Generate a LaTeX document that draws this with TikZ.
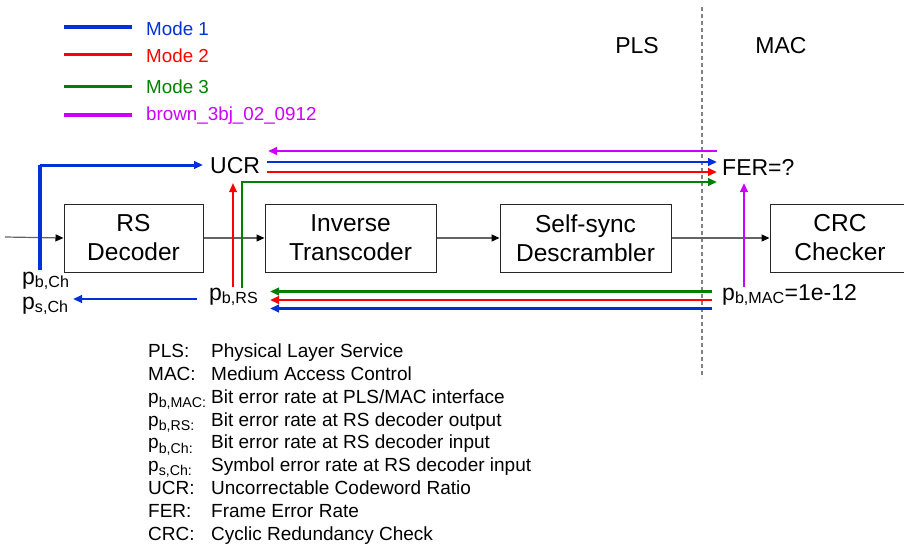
\documentclass[tikz,border=0pt]{standalone}
\usepackage{fontspec}
\setmainfont{Liberation Sans}
\usetikzlibrary{arrows.meta}
\definecolor{mblue}{RGB}{0,48,216}
\definecolor{mred}{RGB}{255,0,0}
\definecolor{mgreen}{RGB}{0,128,0}
\definecolor{mmag}{RGB}{204,0,255}
\definecolor{flowgray}{RGB}{100,100,100}
\definecolor{divgray}{RGB}{130,130,130}
% lowered index for the abbreviation list
\newcommand\keyidx[1]{\raisebox{-0.22em}{\fontsize{14.2}{14.2}\selectfont #1}}
\tikzset{
  blockbox/.style={draw=black!85, line width=1pt, fill=white, inner sep=0pt,
    minimum height=68pt, align=center, font=\fontsize{24.5}{29}\selectfont},
  flow/.style={draw=flowgray, line width=1.2pt, -{Triangle[length=8pt,width=7pt,color=black]}},
  sig/.style={line width=2.4pt, -{Triangle[length=9pt,width=7.5pt]}},
  lbl/.style={anchor=base west, inner sep=0pt, font=\fontsize{23}{27}\selectfont},
  layer/.style={anchor=base, inner sep=0pt, font=\fontsize{23}{27}\selectfont},
  keyline/.style={line width=3.2pt},
  keytxt/.style={anchor=base west, inner sep=0pt, font=\fontsize{18.8}{22}\selectfont},
  deftxt/.style={anchor=base west, inner sep=0pt, font=\fontsize{19}{22}\selectfont},
}
\begin{document}
\begin{tikzpicture}[x=1pt,y=-1pt]
\useasboundingbox (0,0) rectangle (904,546);

% colour key
\coordinate (k1a) at (64,27);   \coordinate (k1b) at (132,27);
\coordinate (k2a) at (64,54.5); \coordinate (k2b) at (132,54.5);
\coordinate (k3a) at (64,86.5); \coordinate (k3b) at (132,86.5);
\coordinate (k4a) at (64,115);  \coordinate (k4b) at (132,115);
\draw[keyline, mblue]  (k1a) -- (k1b);
\draw[keyline, mred]   (k2a) -- (k2b);
\draw[keyline, mgreen] (k3a) -- (k3b);
\draw[keyline, mmag]   (k4a) -- (k4b);
\node[keytxt, text=mblue]  (key1) at (146,35)  {Mode 1};
\node[keytxt, text=mred]   (key2) at (146,62)  {Mode 2};
\node[keytxt, text=mgreen] (key3) at (146,93)  {Mode 3};
\node[keytxt, text=mmag]   (key4) at (146,120) {brown\_3bj\_02\_0912};

% PLS / MAC boundary
\coordinate (divtop) at (702,7);
\coordinate (divbot) at (702,378);
\draw[divgray, line width=1.4pt, dash pattern=on 4pt off 3pt] (divtop) -- (divbot);
\node[layer] (pls) at (637,53) {PLS};
\node[layer] (mac) at (781,53) {MAC};

% processing chain
\node[blockbox, minimum width=139pt] (rs)  at (133.5,238) {RS\\Decoder};
\node[blockbox, minimum width=171pt] (itc) at (350.5,238) {Inverse\\Transcoder};
\node[blockbox, minimum width=171pt] (ssd) at (585.5,238) {Self-sync\\Descrambler};
\node[blockbox, minimum width=140pt] (crc) at (840,238) {CRC\\Checker};
\coordinate (in) at (5,237);
\draw[flow] (in) -- (rs.west);
\draw[flow] (rs.east) -- (itc.west);
\draw[flow] (itc.east) -- (ssd.west);
\draw[flow] (ssd.east) -- (crc.west);

% measured quantities
\node[lbl] (ucr) at (210,173) {UCR};
\node[lbl] (fer) at (722,175) {FER=?};
\node[lbl] (pbrs) at (209,300) {p\textsubscript{b,RS}};
\node[lbl] (pbmac) at (722,300) {p\textsubscript{b,MAC}=1e-12};
\node[lbl] (pbch) at (22,284) {p\textsubscript{b,Ch}};
\node[lbl] (psch) at (22,309) {p\textsubscript{s,Ch}};

% signal paths
\coordinate (b1s) at (40,270);  \coordinate (b1k) at (40,165);  \coordinate (b1e) at (203,165);
\draw[mblue, line width=4pt] (b1s) -- (b1k);
\draw[sig, mblue, line width=3pt] (b1k) -- (b1e);

\coordinate (mts) at (717,151); \coordinate (mte) at (268,151);
\draw[sig, mmag] (mts) -- (mte);
\coordinate (bts) at (267,162); \coordinate (bte) at (717,162);
\draw[sig, mblue] (bts) -- (bte);
\coordinate (rts) at (267,172); \coordinate (rte) at (717,172);
\draw[sig, mred] (rts) -- (rte);
\coordinate (gs) at (242,288); \coordinate (gk) at (242,182); \coordinate (ge) at (717,182);
\draw[sig, mgreen, line width=2.6pt] (gs) -- (gk) -- (ge);
\coordinate (rvs) at (233,287); \coordinate (rve) at (233,183);
\draw[sig, mred, line width=1.8pt] (rvs) -- (rve);

\coordinate (gbs) at (712,291.5); \coordinate (gbe) at (270,291.5);
\draw[sig, mgreen] (gbs) -- (gbe);
\coordinate (rbs) at (712,300); \coordinate (rbe) at (270,300);
\draw[sig, mred] (rbs) -- (rbe);
\coordinate (bbs) at (712,308.5); \coordinate (bbe) at (270,308.5);
\draw[sig, mblue] (bbs) -- (bbe);

\coordinate (bls) at (197,299); \coordinate (ble) at (73,299);
\draw[sig, mblue] (bls) -- (ble);

\coordinate (mvs) at (744,287); \coordinate (mve) at (744,183);
\draw[sig, mmag] (mvs) -- (mve);

% abbreviations
\node[deftxt] (t1) at (148,357.3) {PLS:};
\node[deftxt] (d1) at (211,357.3) {Physical Layer Service};
\node[deftxt] (t2) at (148,380.2) {MAC:};
\node[deftxt] (d2) at (211,380.2) {Medium Access Control};
\node[deftxt] (t3) at (148,403.1) {p\keyidx{b,MAC:}};
\node[deftxt] (d3) at (211,403.1) {Bit error rate at PLS/MAC interface};
\node[deftxt] (t4) at (148,426.0) {p\keyidx{b,RS:}};
\node[deftxt] (d4) at (211,426.0) {Bit error rate at RS decoder output};
\node[deftxt] (t5) at (148,448.9) {p\keyidx{b,Ch:}};
\node[deftxt] (d5) at (211,448.9) {Bit error rate at RS decoder input};
\node[deftxt] (t6) at (148,471.8) {p\keyidx{s,Ch:}};
\node[deftxt] (d6) at (211,471.8) {Symbol error rate at RS decoder input};
\node[deftxt] (t7) at (148,494.7) {UCR:};
\node[deftxt] (d7) at (211,494.7) {Uncorrectable Codeword Ratio};
\node[deftxt] (t8) at (148,517.6) {FER:};
\node[deftxt] (d8) at (211,517.6) {Frame Error Rate};
\node[deftxt] (t9) at (148,540.5) {CRC:};
\node[deftxt] (d9) at (211,540.5) {Cyclic Redundancy Check};
\end{tikzpicture}
\end{document}
